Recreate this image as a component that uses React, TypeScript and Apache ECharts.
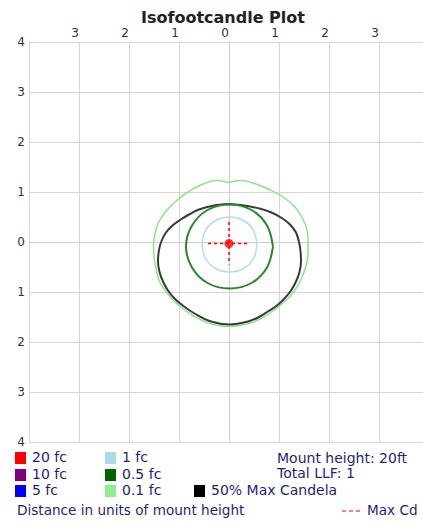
import React, { useEffect, useRef } from "react";
import * as echarts from "echarts";

const TITLE = "Isofootcandle Plot";
const X_MIN = -4;
const X_MAX = 4;

// Contour 0.1 fc (light green)
const fc01: number[][] = [
  [0.0, 1.19], [-0.26, 1.23], [-0.56, 1.14], [-0.82, 1.0], [-1.08, 0.8], [-1.29, 0.58],
  [-1.42, 0.37], [-1.49, 0.12], [-1.51, -0.1], [-1.5, -0.3], [-1.45, -0.58], [-1.39, -0.79],
  [-1.25, -1.0], [-1.09, -1.19], [-0.9, -1.35], [-0.69, -1.49], [-0.38, -1.63], [-0.02, -1.69],
  [0.35, -1.64], [0.64, -1.53], [0.92, -1.35], [1.18, -1.13], [1.36, -0.9], [1.48, -0.66],
  [1.56, -0.4], [1.58, -0.15], [1.58, 0.07], [1.55, 0.28], [1.48, 0.45], [1.32, 0.7],
  [1.05, 0.92], [0.78, 1.06], [0.51, 1.17], [0.24, 1.23], [0.0, 1.19],
];

// 50% Max Candela (black)
const maxCd50: number[][] = [
  [-0.02, 0.76], [-0.3, 0.73], [-0.6, 0.65], [-0.78, 0.56], [-0.95, 0.46], [-1.12, 0.34],
  [-1.26, 0.19], [-1.35, 0.02], [-1.4, -0.16], [-1.42, -0.39], [-1.39, -0.6],
  [-1.32, -0.79], [-1.22, -0.97], [-1.09, -1.13], [-0.9, -1.29], [-0.69, -1.43], [-0.36, -1.59],
  [0.01, -1.65], [0.38, -1.59], [0.6, -1.5], [0.78, -1.39], [0.96, -1.27], [1.11, -1.13],
  [1.24, -0.97], [1.34, -0.79], [1.41, -0.6], [1.44, -0.39], [1.43, -0.18], [1.4, 0.0],
  [1.34, 0.19], [1.22, 0.35], [1.07, 0.47], [0.85, 0.59], [0.61, 0.67], [0.3, 0.73],
  [-0.02, 0.76],
];

// Contour 0.5 fc (dark green)
const fc05: number[][] = [
  [0.88, -0.09], [0.76, 0.33], [0.45, 0.64], [0.01, 0.75], [-0.43, 0.64], [-0.74, 0.33],
  [-0.86, -0.09], [-0.74, -0.51], [-0.43, -0.82], [0.01, -0.93], [0.45, -0.82], [0.76, -0.51],
  [0.88, -0.09],
];

// Contour 1 fc (light blue)
const fc1: number[][] = [
  [0.56, -0.05], [0.49, 0.23], [0.29, 0.43], [0.01, 0.5], [-0.27, 0.43], [-0.47, 0.23],
  [-0.54, -0.05], [-0.47, -0.33], [-0.27, -0.53], [0.01, -0.6], [0.29, -0.53], [0.49, -0.33],
  [0.56, -0.05],
];

// Max candela location and crosshair
const maxPoint: number[][] = [[0.0, -0.03]];
const crossH: number[][] = [[-0.42, -0.03], [0.42, -0.03]];
const crossV: number[][] = [[0.0, 0.4], [0.0, -0.45]];

const legendItems = [
  { label: "20 fc", color: "#ff0000" },
  { label: "10 fc", color: "#800080" },
  { label: "5 fc", color: "#0000ff" },
  { label: "1 fc", color: "#add8e6" },
  { label: "0.5 fc", color: "#006400" },
  { label: "0.1 fc", color: "#90ee90" },
  { label: "50% Max Candela", color: "#000000" },
];

const infoLines = ["Mount height: 20ft", "Total LLF: 1"];
const footLeft = "Distance in units of mount height";
const footRight = "Max Cd";

const FONT = "DejaVu Sans";
const TXT = "#1f1f75";

export default function App() {
  const ref = useRef<HTMLDivElement>(null);
  useEffect(() => {
    if (!ref.current) return;
    const chart = echarts.init(ref.current, null, { renderer: "svg" });

    const legendPos = [
      [15, 452], [15, 469], [15, 485],
      [105, 452], [105, 469], [105, 485],
      [194, 485],
    ];
    const graphics: any[] = [];
    legendItems.forEach((it, i) => {
      const [x, y] = legendPos[i];
      graphics.push({
        type: "rect",
        left: x, top: y,
        shape: { width: 11, height: 12 },
        style: { fill: it.color },
      });
      graphics.push({
        type: "text",
        left: x + 17, top: y - 2,
        style: { text: it.label, fill: TXT, font: `14px ${FONT}` },
      });
    });
    infoLines.forEach((t, i) => {
      graphics.push({
        type: "text",
        left: 277, top: 451 + i * 15,
        style: { text: t, fill: TXT, font: `14px ${FONT}` },
      });
    });
    graphics.push({
      type: "text", left: 17, top: 503,
      style: { text: footLeft, fill: TXT, font: `13.6px ${FONT}` },
    });
    graphics.push({
      type: "line",
      shape: { x1: 342, y1: 511, x2: 362, y2: 511 },
      style: { stroke: "#ff0000", lineWidth: 1.2, lineDash: [4, 3] },
    });
    graphics.push({
      type: "text", left: 367, top: 503,
      style: { text: footRight, fill: TXT, font: `13.6px ${FONT}` },
    });

    const lineSeries = (name: string, data: number[][], color: string, width: number, z: number) => ({
      name,
      type: "line",
      data,
      smooth: 0.35,
      symbol: "none",
      z,
      lineStyle: { color, width },
    });

    chart.setOption({
      animation: false,
      backgroundColor: "#ffffff",
      title: {
        text: TITLE,
        left: 136,
        top: 4,
        textStyle: { fontFamily: FONT, fontSize: 16, fontWeight: "bold", color: "#222" },
      },
      grid: { left: 29, top: 42, width: 400, height: 400, containLabel: false },
      xAxis: {
        type: "value",
        min: X_MIN,
        max: X_MAX,
        interval: 1,
        position: "top",
        axisLine: { show: true, lineStyle: { color: "#cfcfcf" } },
        axisTick: { show: false },
        axisLabel: {
          margin: 3,
          fontFamily: FONT,
          fontSize: 12,
          color: "#333",
          padding: [0, 8, 0, 0],
          formatter: (v: number) => (Math.abs(v) === 4 ? "" : String(Math.abs(v))),
        },
        splitLine: { show: true, lineStyle: { color: "#d6d6d6" } },
      },
      yAxis: {
        type: "value",
        min: -4,
        max: 4,
        interval: 1,
        axisLine: { show: true, lineStyle: { color: "#cfcfcf" } },
        axisTick: { show: false },
        axisLabel: {
          margin: 4,
          fontFamily: FONT,
          fontSize: 12,
          color: "#333",
          formatter: (v: number) => String(Math.abs(v)),
        },
        splitLine: { show: true, lineStyle: { color: "#d6d6d6" } },
      },
      series: [
        lineSeries("0.1 fc", fc01, "#8fe08f", 1.5, 2),
        lineSeries("50% Max Candela", maxCd50, "#3a3a3a", 2, 3),
        lineSeries("0.5 fc", fc05, "#2a862a", 2, 4),
        lineSeries("1 fc", fc1, "#b4dbe8", 1.5, 4),
        {
          name: "crossH", type: "line", data: crossH, symbol: "none", z: 5,
          lineStyle: { color: "#ff0000", width: 1.5, type: [3, 3] },
        },
        {
          name: "crossV", type: "line", data: crossV, symbol: "none", z: 5,
          lineStyle: { color: "#ff0000", width: 1.5, type: [3, 3] },
        },
        {
          name: "Max Candela", type: "scatter", data: maxPoint, symbolSize: 9, z: 6,
          itemStyle: { color: "#ff0000" },
        },
      ],
      graphic: graphics,
    });
    return () => chart.dispose();
  }, []);

  return (
    <div style={{ position: "fixed", left: 0, top: 0, width: 423, height: 525, overflow: "hidden", background: "#fff" }}>
      <div ref={ref} style={{ width: 440, height: 525 }} />
    </div>
  );
}
